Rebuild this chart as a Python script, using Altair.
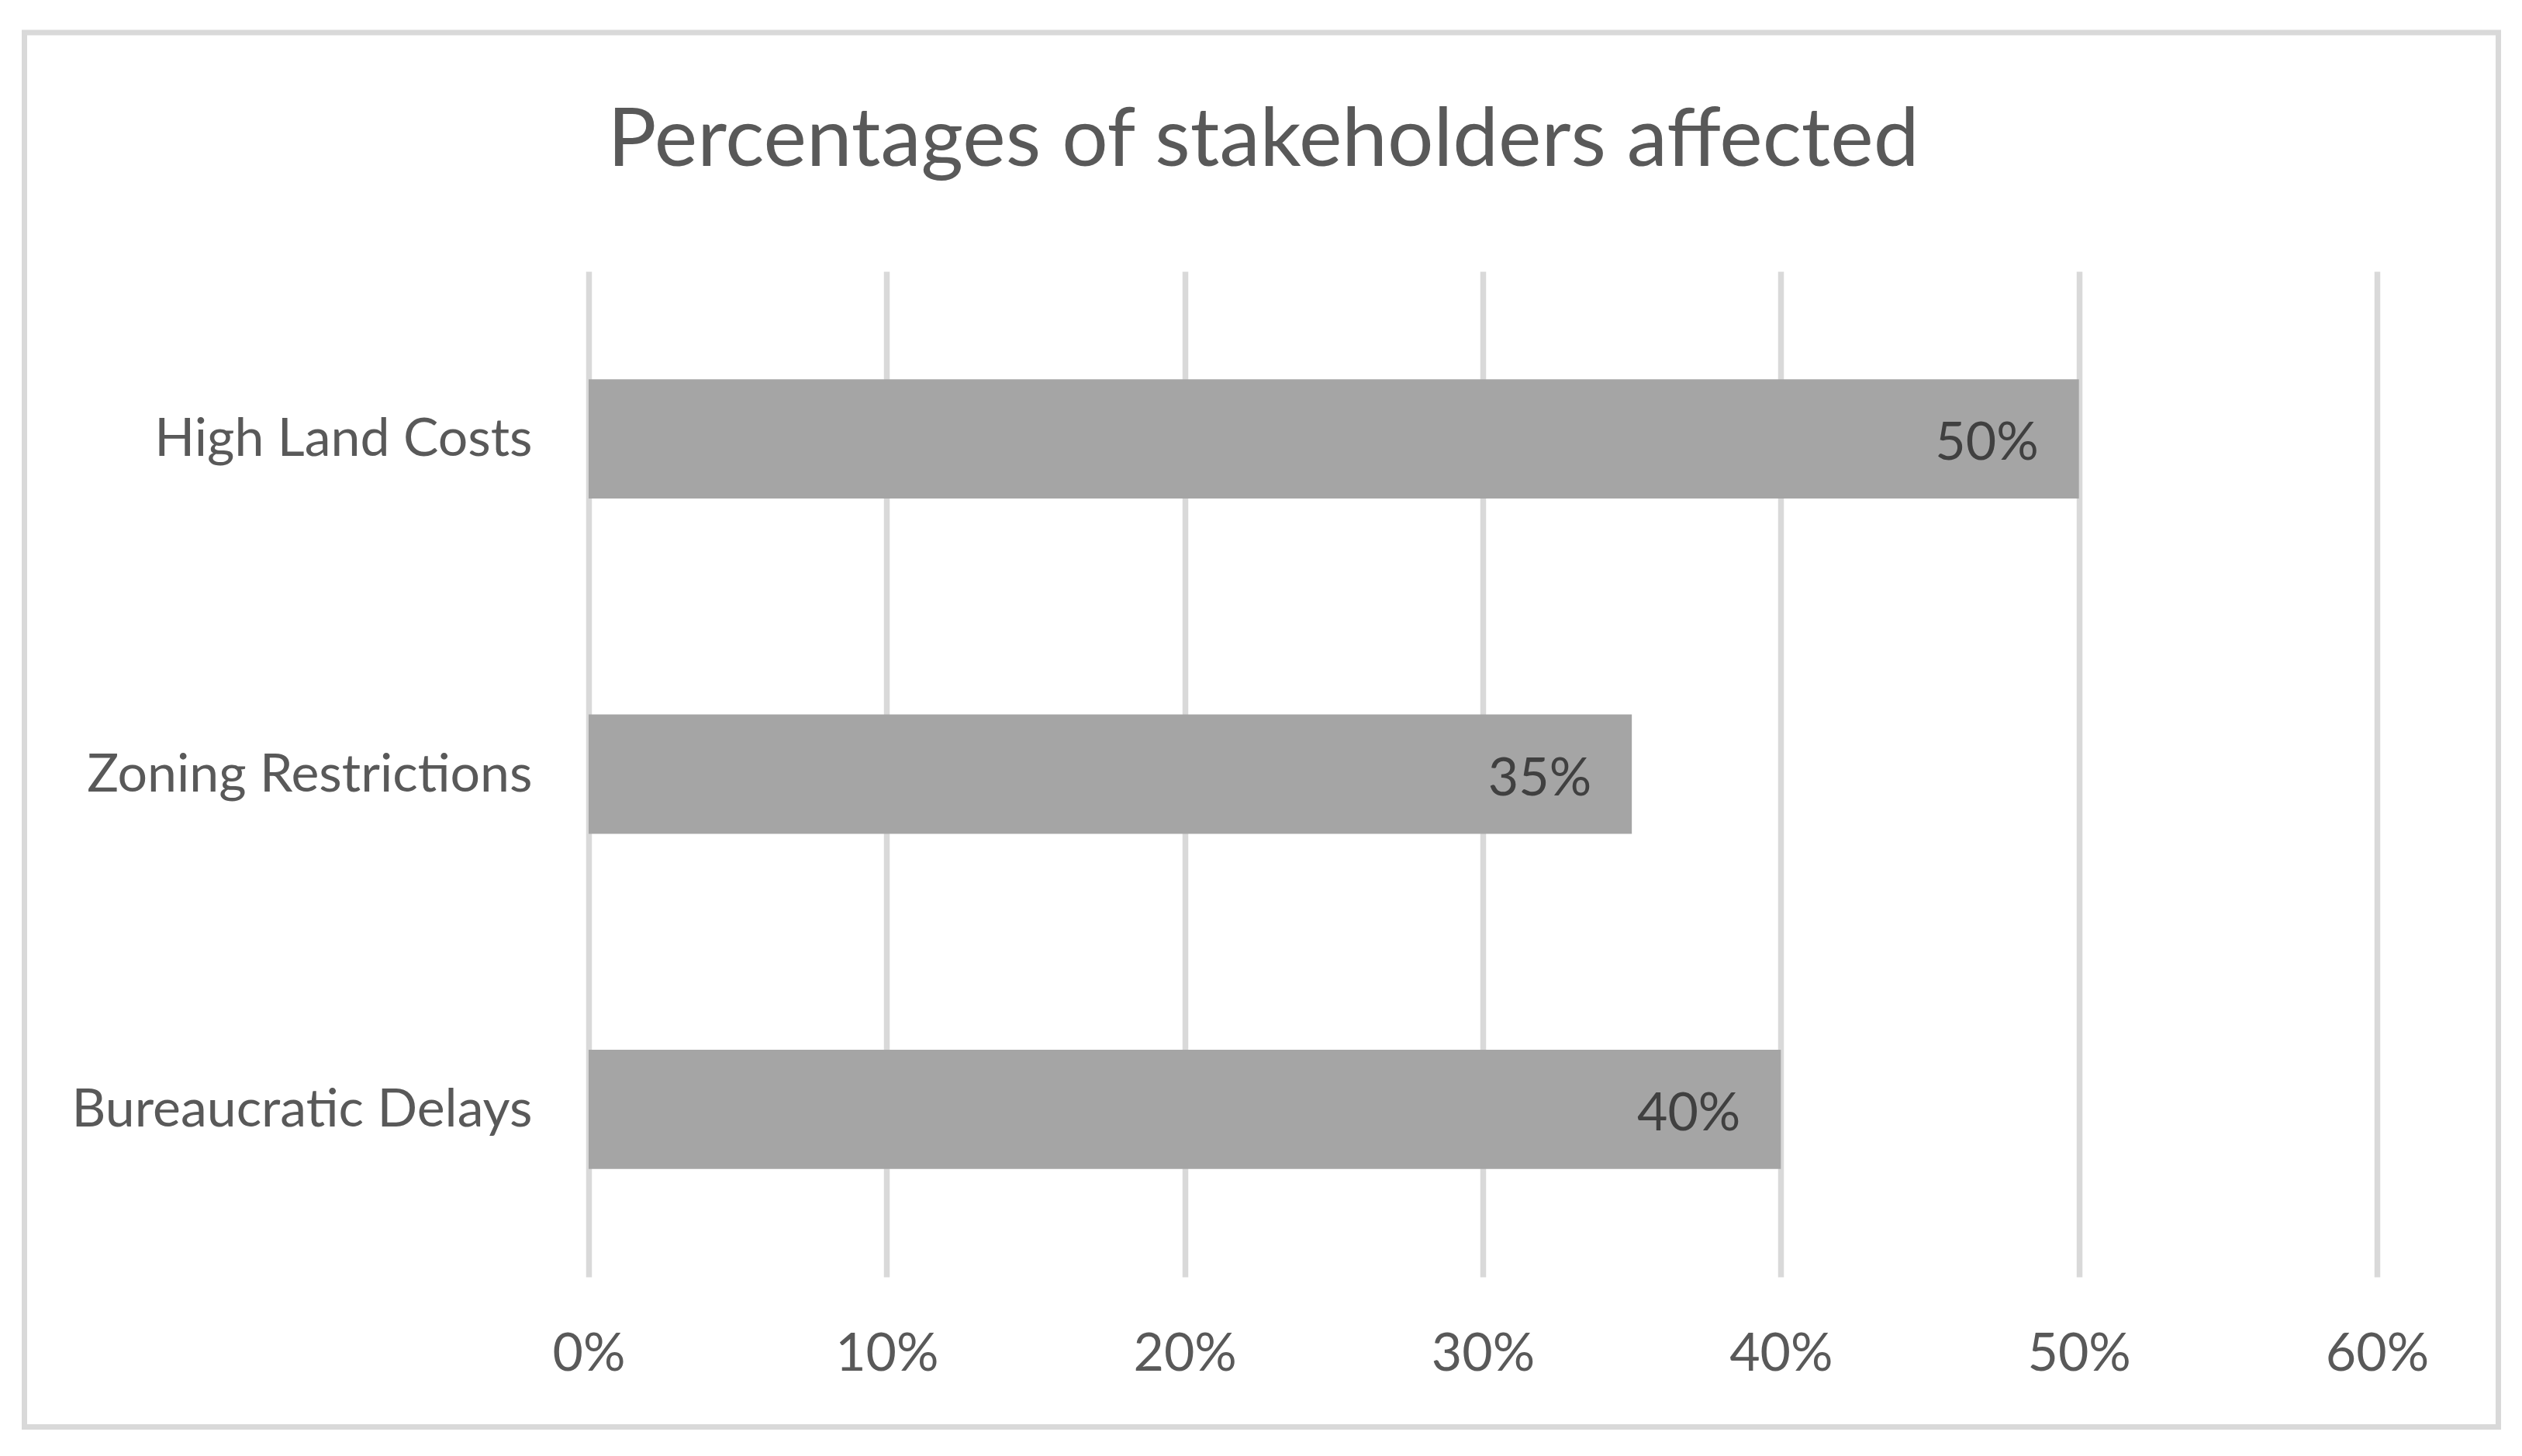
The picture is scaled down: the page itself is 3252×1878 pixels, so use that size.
import altair as alt
import pandas as pd

categories = ["High Land Costs", "Zoning Restrictions", "Bureaucratic Delays"]
values = [0.50, 0.35, 0.40]
tick_values = [0.0, 0.1, 0.2, 0.3, 0.4, 0.5, 0.6]
title_text = "Percentages of stakeholders affected"

df = pd.DataFrame({"category": categories, "value": values})

FONT = "Lato"
TEXT = "#595959"

x_enc = alt.X(
    "value:Q",
    scale=alt.Scale(domain=[0, 0.6], nice=False, zero=True),
    axis=alt.Axis(
        values=tick_values,
        format=".0%",
        title=None,
        grid=True,
        gridColor="#D9D9D9",
        gridWidth=7.5,
        domain=False,
        ticks=False,
        tickSize=0,
        labelFlush=False,
        labelFont=FONT,
        labelFontSize=68,
        labelColor=TEXT,
        labelBaseline="alphabetic",
        labelPadding=120,
    ),
)
y_enc = alt.Y(
    "category:N",
    sort=categories,
    scale=alt.Scale(paddingInner=0.644, paddingOuter=0.322),
    axis=alt.Axis(
        title=None,
        grid=False,
        domain=False,
        ticks=False,
        tickSize=0,
        labelFont=FONT,
        labelFontSize=68,
        labelColor=TEXT,
        labelBaseline="alphabetic",
        labelOffset=22,
        labelPadding=73,
        labelLimit=2000,
    ),
)

bars = alt.Chart(df).mark_bar(color="#A5A5A5").encode(x=x_enc, y=y_enc)

labels = alt.Chart(df).mark_text(
    align="right", baseline="alphabetic", dx=-52, dy=27,
    font=FONT, fontSize=68, color="#404040",
).encode(
    x=alt.X("value:Q"),
    y=alt.Y("category:N", sort=categories),
    text=alt.Text("value:Q", format=".0%"),
)

frame = alt.Chart(alt.Data(values=[{}])).mark_rect(
    fillOpacity=0, stroke="#D9D9D9", strokeWidth=7
).encode(
    x=alt.value(-727.5), x2=alt.value(2462.5),
    y=alt.value(-308), y2=alt.value(1490.5),
)

chart = alt.layer(frame, bars, labels).properties(
    width=2306,
    height=1297,
    background="white",
    autosize=alt.AutoSizeParams(type="none"),
    padding={"left": 751, "top": 342, "right": 179, "bottom": 210},
    title=alt.TitleParams(
        text=title_text,
        font=FONT,
        fontSize=105,
        fontWeight="normal",
        color=TEXT,
        anchor="middle",
        dx=-283,
        baseline="alphabetic",
        offset=-280,
    ),
).configure_view(
    strokeWidth=0, stroke="transparent"
)

chart.save("out.html", embed_options={"renderer": "svg", "actions": False})
